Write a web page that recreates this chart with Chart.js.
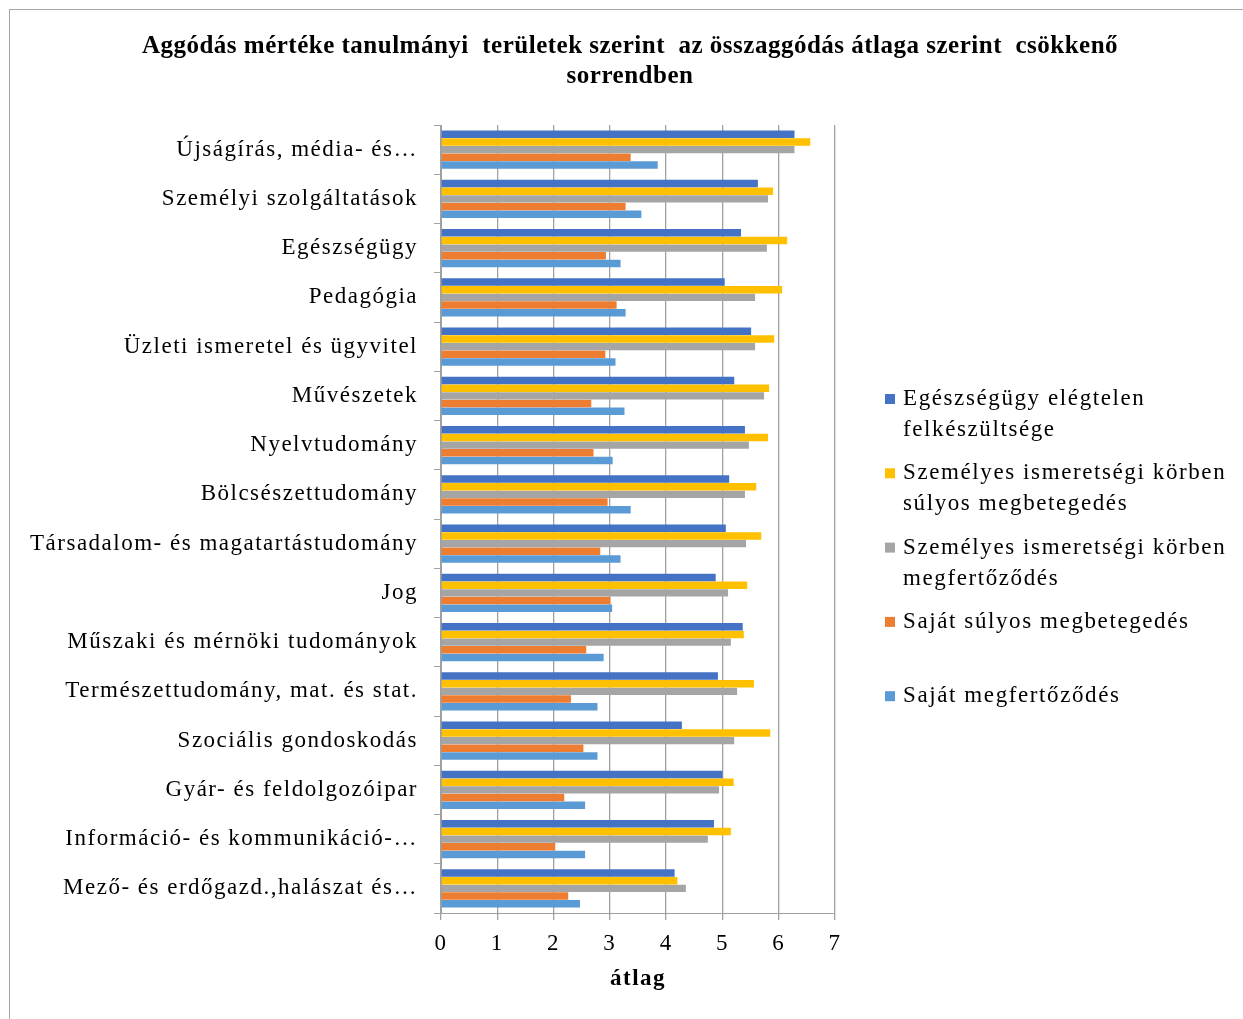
<!DOCTYPE html>
<html>
<head>
<meta charset="utf-8">
<script src="https://cdn.jsdelivr.net/npm/chart.js@4/dist/chart.umd.min.js"></script>
<style>
  body { margin: 0; background: #fff; }
  #wrap { position: relative; width: 1243px; height: 1019px; overflow: hidden; }
  #frame { position: absolute; left: 9px; top: 9px; width: 1300px; height: 1100px; border: 1px solid #a6a6a6; }
  canvas { position: absolute; left: 0; top: 0; }
</style>
</head>
<body>
<div id="wrap">
  <div id="frame"></div>
  <canvas id="chart" width="1243" height="1019"></canvas>
</div>
<script>
// categories, top to bottom
const categories = [
    'Újságírás, média- és…',
    'Személyi szolgáltatások',
    'Egészségügy',
    'Pedagógia',
    'Üzleti ismeretel és ügyvitel',
    'Művészetek',
    'Nyelvtudomány',
    'Bölcsészettudomány',
    'Társadalom- és magatartástudomány',
    'Jog',
    'Műszaki és mérnöki tudományok',
    'Természettudomány, mat. és stat.',
    'Szociális gondoskodás',
    'Gyár- és feldolgozóipar',
    'Információ- és kommunikáció-…',
    'Mező- és erdőgazd.,halászat és…'
];

const seriesNames = [
    ['Egészségügy elégtelen', 'felkészültsége'],
    ['Személyes ismeretségi körben', 'súlyos megbetegedés'],
    ['Személyes ismeretségi körben', 'megfertőződés'],
    ['Saját súlyos megbetegedés'],
    ['Saját megfertőződés']
];

const titleLines = ['Aggódás mértéke tanulmányi  területek szerint  az összaggódás átlaga szerint  csökkenő', 'sorrendben'];

const egeszsegugy = [6.28, 5.63, 5.33, 5.04, 5.51, 5.21, 5.40, 5.12, 5.06, 4.88, 5.36, 4.92, 4.28, 5.00, 4.85, 4.15];
const ismerosBeteg = [6.56, 5.90, 6.15, 6.06, 5.92, 5.83, 5.81, 5.60, 5.69, 5.44, 5.38, 5.56, 5.85, 5.20, 5.15, 4.20];
const ismerosFertozes = [6.28, 5.81, 5.79, 5.58, 5.58, 5.74, 5.47, 5.40, 5.42, 5.10, 5.15, 5.26, 5.21, 4.94, 4.74, 4.35];
const sajatBeteg = [3.37, 3.28, 2.93, 3.12, 2.92, 2.67, 2.71, 2.96, 2.83, 3.01, 2.58, 2.31, 2.53, 2.19, 2.03, 2.26];
const sajatFertozes = [3.85, 3.56, 3.19, 3.28, 3.10, 3.26, 3.05, 3.37, 3.19, 3.04, 2.89, 2.78, 2.78, 2.56, 2.56, 2.47];

const xTicks = [0, 1, 2, 3, 4, 5, 6, 7];

const colors = ['#4472C4', '#FFC000', '#A5A5A5', '#ED7D31', '#5B9BD5'];
const values = [egeszsegugy, ismerosBeteg, ismerosFertozes, sajatBeteg, sajatFertozes];

const serif = '"Liberation Serif", "Times New Roman", serif';

// the source text is widely tracked, so spread the letters a bit
const spacing = {
    id: 'spacing',
    beforeLayout(chart) { chart.ctx.letterSpacing = '1.5px'; },
    beforeDraw(chart) { chart.ctx.letterSpacing = '1.5px'; }
};

// title centred on the whole page + legend on the right (labels wrap)
const decorations = {
    id: 'decorations',
    afterDraw(chart) {
        const ctx = chart.ctx;
        ctx.save();
        ctx.textBaseline = 'middle';
        ctx.fillStyle = '#000';

        ctx.letterSpacing = '0.5px';
        ctx.textAlign = 'center';
        ctx.font = 'bold 25px ' + serif;
        titleLines.forEach((line, j) => ctx.fillText(line, 630, 47 + j * 30));

        ctx.letterSpacing = '1.6px';
        ctx.textAlign = 'left';
        ctx.font = '23px ' + serif;
        chart.data.datasets.forEach((ds, i) => {
            const y = 399 + i * 74.3;
            ctx.fillStyle = ds.backgroundColor;
            ctx.fillRect(885, y - 5, 10, 10);
            ctx.fillStyle = '#000';
            seriesNames[i].forEach((line, j) => {
                ctx.fillText(line, 903, y + j * 31);
            });
        });
        ctx.restore();
    }
};

new Chart(document.getElementById('chart'), {
    type: 'bar',
    data: {
        labels: categories,
        datasets: values.map((v, i) => ({
            label: seriesNames[i].join(' '),
            data: v,
            backgroundColor: colors[i],
            categoryPercentage: 0.78,
            barPercentage: 0.97
        }))
    },
    options: {
        indexAxis: 'y',
        responsive: false,
        animation: false,
        layout: { padding: { left: 10, right: 408, top: 125, bottom: 8 } },
        plugins: {
            legend: { display: false },
            tooltip: { enabled: false },
            title: { display: false }
        },
        scales: {
            x: {
                min: 0,
                max: 7,
                afterBuildTicks: (scale) => { scale.ticks = xTicks.map(v => ({ value: v })); },
                afterFit: (scale) => { scale.height = 98; },
                grid: { color: '#a0a0a0', tickLength: 7, lineWidth: 1.3 },
                border: { color: '#a0a0a0' },
                ticks: { font: { family: serif, size: 23 }, color: '#000', padding: 10 },
                title: {
                    display: true,
                    text: 'átlag',
                    font: { family: serif, size: 23, weight: 'bold' },
                    color: '#000',
                    padding: { top: 2, bottom: 18 }
                }
            },
            y: {
                afterFit: (scale) => { scale.width = 431; },
                grid: { drawOnChartArea: false, color: '#a0a0a0', tickLength: 7 },
                border: { color: '#a0a0a0' },
                ticks: { font: { family: serif, size: 23 }, color: '#000', padding: 16, autoSkip: false }
            }
        }
    },
    plugins: [spacing, decorations]
});
</script>
</body>
</html>
